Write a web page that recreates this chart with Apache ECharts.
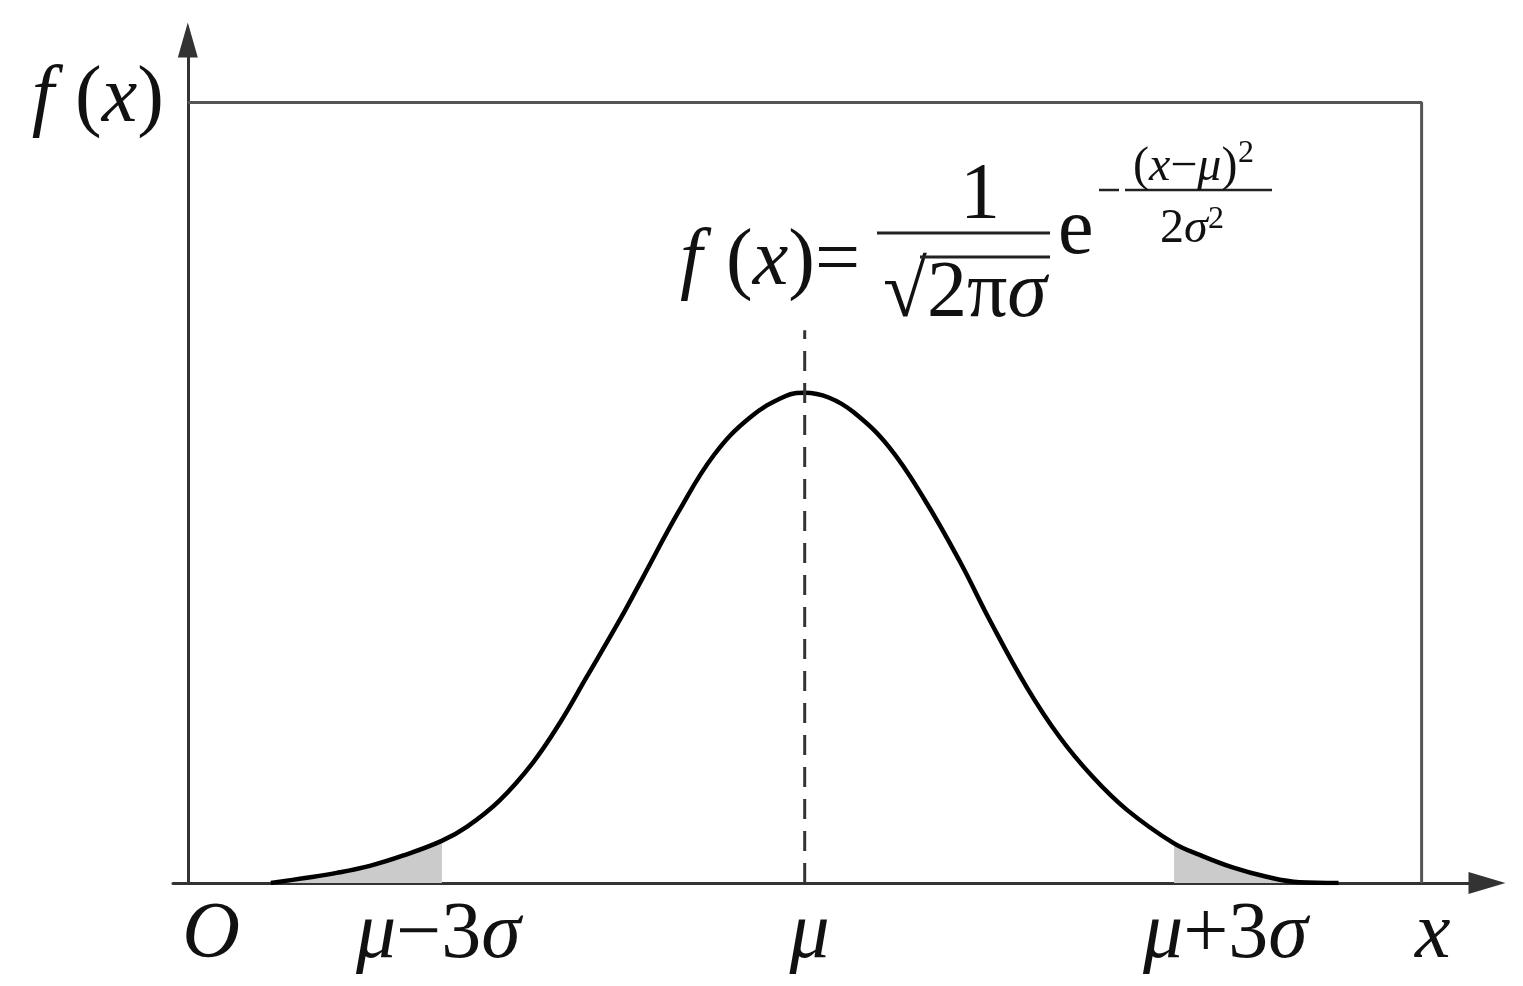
<!DOCTYPE html>
<html>
<head>
<meta charset="utf-8">
<script src="https://cdn.jsdelivr.net/npm/echarts@6/dist/echarts.min.js"></script>
<style>
html,body{margin:0;padding:0;background:#fff;}
#c{width:1523px;height:986px;}
</style>
</head>
<body>
<div id="c"></div>
<script>
// ---- data (x: μ = 5, σ = 1 ; y: box top = 1) ----
const curveX = [0.673, 0.932, 1.207, 1.475, 1.742, 2.058, 2.261, 2.528, 2.796, 3.015, 3.233, 3.501, 3.687, 3.979,
                4.263, 4.554, 4.846, 5.000, 5.194, 5.397, 5.681, 5.972, 6.264, 6.499, 6.799, 7.066, 7.334,
                7.609, 7.990, 8.201, 8.468, 8.744, 9.011, 9.327];
const curveY = [0.000, 0.006, 0.013, 0.022, 0.035, 0.054, 0.072, 0.106, 0.154, 0.205, 0.264, 0.337, 0.391, 0.476,
                0.548, 0.596, 0.624, 0.628, 0.622, 0.603, 0.559, 0.491, 0.410, 0.337, 0.251, 0.187, 0.136,
                0.094, 0.051, 0.036, 0.020, 0.008, 0.001, 0.000];
const shadeLeftEnd = 2.058;     // μ − 3σ edge of the left grey tail
const shadeRightStart = 7.99;   // μ + 3σ edge of the right grey tail
const muX = 5;
const muLineTop = 0.708;
const boxRight = 10;
const boxTop = 1;
const xTickValues = [0.19, 2.03, 5.04, 8.41, 10.09];
const xTickLabels = ['O', 'μ−3σ', 'μ', 'μ+3σ', 'x'];
const yNameValue = 0.976;       // baseline of the f(x) axis name
const yNameParts = ['f', '(x)'];

const FONT = 'Liberation Serif';
const ITALIC = 'Oxfμσ';
const mctx = document.createElement('canvas').getContext('2d');
function measure(text, it, fs){ mctx.font = (it ? 'italic ' : '') + fs + 'px ' + FONT; return mctx.measureText(text).width; }
function baseOffset(it, fs){
  mctx.font = (it ? 'italic ' : '') + fs + 'px ' + FONT;
  mctx.textBaseline = 'alphabetic';
  const a = mctx.measureText('Hxg').fontBoundingBoxAscent;
  mctx.textBaseline = 'middle';
  const b = mctx.measureText('Hxg').fontBoundingBoxAscent;
  mctx.textBaseline = 'alphabetic';
  const d = a - b;
  return (typeof d === 'number' && isFinite(d)) ? d : 0.3 * fs;
}
function splitRuns(s){
  const runs = []; let buf = '', mode = null;
  for (const ch of s){
    const m = ITALIC.includes(ch);
    if (buf && m !== mode){ runs.push([buf, mode]); buf = ''; }
    mode = m; buf += ch;
  }
  if (buf) runs.push([buf, mode]);
  return runs;
}
function place(out, text, x, baseline, fs, align){
  const runs = splitRuns(text).map(r => ({t: r[0], it: r[1], w: measure(r[0], r[1], fs), off: baseOffset(r[1], fs)}));
  const total = runs.reduce((s, r) => s + r.w, 0);
  let cx = align === 'right' ? x - total : align === 'center' ? x - total / 2 : x;
  runs.forEach(r => {
    out.push({type: 'text', z: 100, silent: true,
      style: {text: r.t, fontFamily: FONT, fontSize: fs, fontStyle: r.it ? 'italic' : 'normal',
              x: cx, y: baseline - r.off, align: 'left', verticalAlign: 'middle', fill: '#111'}});
    cx += r.w;
  });
}
function L(out, x1, y1, x2, y2, w){
  out.push({type: 'line', z: 100, silent: true, shape: {x1: x1, y1: y1, x2: x2, y2: y2},
            style: {stroke: '#222', lineWidth: w}});
}

const curve = curveX.map((x, i) => [x, curveY[i]]);
const xMin = curveX[0], xMax = curveX[curveX.length - 1];
const o1 = (shadeLeftEnd - xMin) / (xMax - xMin);
const o2 = (shadeRightStart - xMin) / (xMax - xMin);
const GREY = '#cbcbcb', NONE = 'rgba(255,255,255,0)';

const chart = echarts.init(document.getElementById('c'), null, {renderer: 'canvas'});

chart.setOption({
  backgroundColor: '#fff',
  animation: false,
  grid: {left: 173, right: 36, top: 40, bottom: 103},
  xAxis: {
    type: 'value', min: -0.12, max: 10.53,
    splitLine: {show: false}, axisTick: {show: false}, axisLabel: {show: false},
    axisLine: {show: true, symbol: ['none', 'triangle'], symbolSize: [22, 37],
               lineStyle: {color: '#333', width: 3}}
  },
  yAxis: {
    type: 'value', min: 0, max: 1.08,
    splitLine: {show: false}, axisTick: {show: false}, axisLabel: {show: false},
    axisLine: {show: true, onZero: true, symbol: ['none', 'triangle'], symbolSize: [20, 35],
               lineStyle: {color: '#333', width: 3}}
  },
  series: [
    {type: 'line', data: [[0, boxTop], [boxRight, boxTop], [boxRight, 0]],
     symbol: 'none', lineStyle: {color: '#555', width: 3}, z: 1},
    {type: 'line', data: curve, smooth: 0.4, symbol: 'none',
     lineStyle: {color: '#000', width: 4.5},
     areaStyle: {opacity: 1, color: new echarts.graphic.LinearGradient(0, 0, 1, 0, [
       {offset: 0, color: GREY}, {offset: o1, color: GREY},
       {offset: o1, color: NONE}, {offset: o2, color: NONE},
       {offset: o2, color: GREY}, {offset: 1, color: GREY}])},
     z: 3},
    {type: 'line', data: [[muX, 0], [muX, muLineTop]], symbol: 'none',
     lineStyle: {color: '#333', width: 3, type: [20, 12]}, z: 4}
  ]
});

// ---- text: tick labels placed through the axes, formula as annotation ----
const FS = 80, FSE = 48, FSS = 32;
const g = [];
const axisY = chart.convertToPixel({yAxisIndex: 0}, 0);
xTickValues.forEach((v, i) => {
  place(g, xTickLabels[i], chart.convertToPixel({xAxisIndex: 0}, v), axisY + 74, FS, 'center');
});
const yAxisX = chart.convertToPixel({xAxisIndex: 0}, 0);
const nameBase = chart.convertToPixel({yAxisIndex: 0}, yNameValue);
place(g, yNameParts[0], yAxisX - 156, nameBase, FS, 'left');
place(g, yNameParts[1], yAxisX - 24, nameBase, FS, 'right');

// formula  f(x) = 1/√(2πσ) · e^{-(x-μ)²/(2σ²)}
place(g, 'f', 680, 284, FS, 'left');
place(g, '(x)=', 860, 284, FS, 'right');
place(g, '1', 980, 218, FS, 'center');
L(g, 877, 233, 1050, 233, 3);
place(g, '√2πσ', 883, 316, FS, 'left');
L(g, 920, 257, 1050, 257, 3);
place(g, 'e', 1058, 253, FS, 'left');
L(g, 1099, 190, 1119, 190, 2.5);
L(g, 1125, 190, 1272, 190, 2.5);
place(g, '(x−μ)', 1133, 180, FSE, 'left');
place(g, '2', 1238, 162, FSS, 'left');
place(g, '2σ', 1160, 242, FSE, 'left');
place(g, '2', 1208, 228, FSS, 'left');

chart.setOption({graphic: g});
</script>
</body>
</html>
